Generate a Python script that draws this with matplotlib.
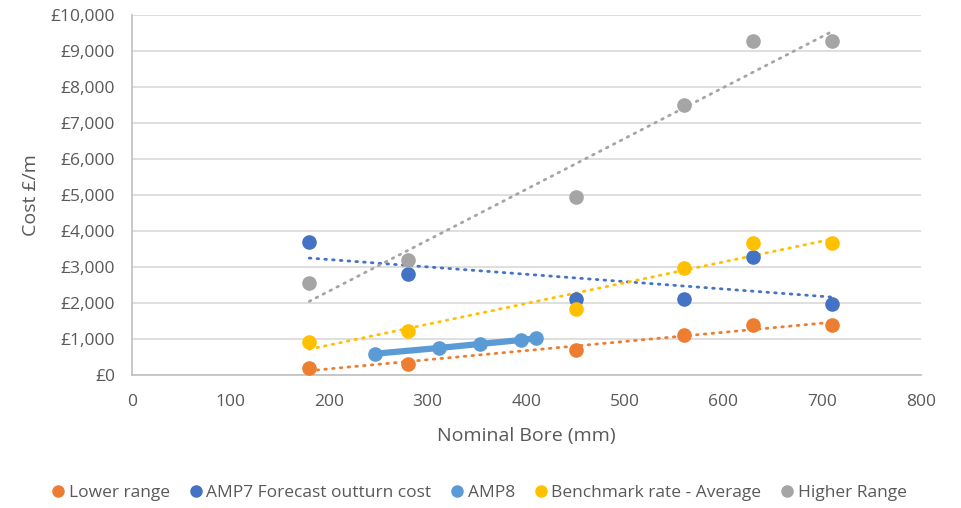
import numpy as np
import matplotlib.pyplot as plt
from matplotlib.ticker import FuncFormatter, MultipleLocator

plt.rcParams['font.family'] = ['Open Sans', 'DejaVu Sans']

# nominal bore (mm) and cost per metre (GBP)
bore = [180, 280, 450, 560, 630, 710]
lower_range = [200, 300, 700, 1100, 1400, 1400]
amp7_outturn = [3700, 2800, 2100, 2100, 3280, 1970]
benchmark_avg = [920, 1220, 1830, 2970, 3670, 3670]
higher_range = [2560, 3200, 4940, 7500, 9280, 9280]

amp8_bore = [247, 312, 353, 395, 410]
amp8_cost = [590, 750, 860, 970, 1020]

c_lower = '#ED7D31'
c_amp7 = '#4472C4'
c_amp8 = '#5B9BD5'
c_bench = '#FFC000'
c_high = '#A5A5A5'
txt = '#595959'

fig = plt.figure(figsize=(9.62, 5.08), dpi=100)
ax = fig.add_axes([0.137, 0.262, 0.820, 0.708])

xs = np.array(bore)

def trend(y, col):
	m, c = np.polyfit(xs, y, 1)
	ax.plot([xs.min(), xs.max()], [c + m*xs.min(), c + m*xs.max()],
		color=col, lw=2, ls=(0, (0.6, 2.2)), dash_capstyle='round', zorder=2)

ax.plot(bore, lower_range, 'o', color=c_lower, ms=9.5, zorder=3, label='Lower range')
ax.plot(bore, amp7_outturn, 'o', color=c_amp7, ms=9.5, zorder=3, label='AMP7 Forecast outturn cost')
ax.plot(amp8_bore, amp8_cost, '-o', color=c_amp8, lw=4.5, ms=9.5, zorder=3, label='AMP8')
ax.plot(bore, benchmark_avg, 'o', color=c_bench, ms=9.5, zorder=3, label='Benchmark rate - Average')
ax.plot(bore, higher_range, 'o', color=c_high, ms=9.5, zorder=3, label='Higher Range')

trend(lower_range, c_lower)
trend(amp7_outturn, c_amp7)
trend(benchmark_avg, c_bench)
trend(higher_range, c_high)

ax.set_xlim(0, 800)
ax.set_ylim(0, 10000)
ax.xaxis.set_major_locator(MultipleLocator(100))
ax.yaxis.set_major_locator(MultipleLocator(1000))
ax.yaxis.set_major_formatter(FuncFormatter(lambda v, p: '£{:,.0f}'.format(v)))
ax.grid(axis='y', color='#D9D9D9', lw=1.2)
ax.set_axisbelow(True)
for s in ['top', 'right']:
	ax.spines[s].set_visible(False)
for s in ['left', 'bottom']:
	ax.spines[s].set_color('#BFBFBF')
	ax.spines[s].set_linewidth(1.2)
ax.tick_params(axis='y', length=0, labelsize=12.5, colors=txt, pad=12)
ax.tick_params(axis='x', length=0, labelsize=12.5, colors=txt, pad=14)
ax.set_xlabel('Nominal Bore (mm)', fontsize=14, color=txt, labelpad=12)
ax.set_ylabel('Cost £/m', fontsize=14, color=txt, labelpad=8)

handles = [plt.Line2D([], [], ls='', marker='o', color=c, ms=8) for c in [c_lower, c_amp7, c_amp8, c_bench, c_high]]
labels = ['Lower range', 'AMP7 Forecast outturn cost', 'AMP8', 'Benchmark rate - Average', 'Higher Range']
leg = fig.legend(handles, labels, loc='center', bbox_to_anchor=(0.497, 0.029), ncol=5, frameon=False,
	fontsize=12.5, handletextpad=0.1, columnspacing=1.0, handlelength=1.0)
for t in leg.get_texts():
	t.set_color(txt)

fig.savefig('out.png', dpi=100)
